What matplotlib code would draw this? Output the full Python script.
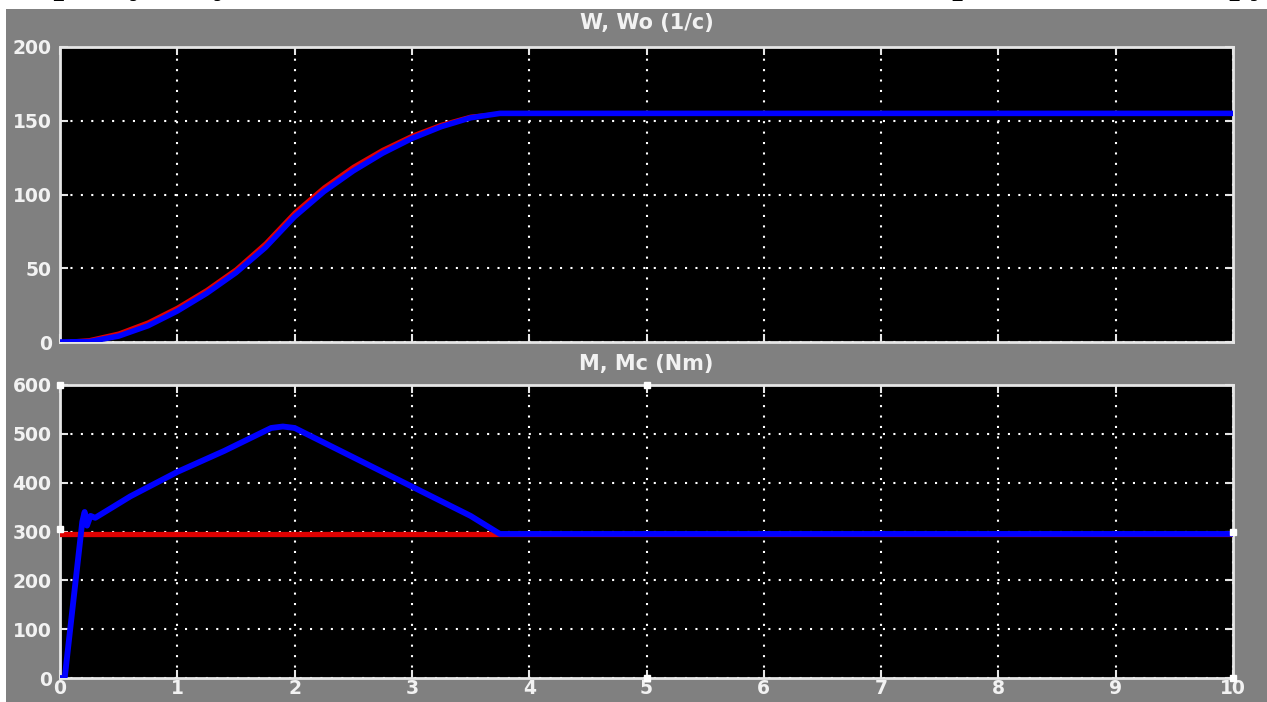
import matplotlib.pyplot as plt
import matplotlib.patches as patches

# ---------------------------------------------------------
# data
# ---------------------------------------------------------
t_w = [0, 0.25, 0.5, 0.75, 1.0, 1.25, 1.5, 1.75, 2.0, 2.25, 2.5, 2.75, 3.0, 3.25, 3.5, 3.75, 10]
w = [0, 0.3, 4, 11, 21, 33, 47, 64, 85, 102, 116, 128, 138, 146, 152, 155, 155]
wo = [0, 1.5, 6, 13.5, 23.5, 35.5, 49.5, 67, 88, 105, 119, 130.5, 140, 147.5, 153, 155, 155]

t_m = [0, 0.04, 0.19, 0.21, 0.23, 0.26, 0.3, 0.6, 1.0, 1.4, 1.8, 1.9, 2.0, 2.5, 3.0, 3.5, 3.75, 10]
m = [0, 0, 320, 340, 312, 332, 328, 372, 422, 465, 512, 515, 512, 452, 392, 332, 295, 295]
t_mc = [0, 10]
mc = [295, 295]

x_ticks = list(range(0, 11))
w_ticks = [0, 50, 100, 150, 200]
m_ticks = [0, 100, 200, 300, 400, 500, 600]

caption = "Модель двигателя при пуске установки с задатчиком интенсивности и реактивной нагрузкой при разгоне"

# ---------------------------------------------------------
# figure
# ---------------------------------------------------------
W_PX, H_PX = 1267, 702
fig = plt.figure(figsize=(W_PX / 100, H_PX / 100), dpi=100)
fig.patch.set_facecolor('white')

# grey scope background (white strip on top and at left edge)
fig.add_artist(patches.Rectangle((6 / W_PX, 0), 1, 1 - 9 / H_PX, transform=fig.transFigure,
                                 facecolor='#808080', edgecolor='none', zorder=0))

# caption of the page above, only its descenders are visible
fig.text(0.50, 1 + 8 / H_PX, caption, ha='center', va='baseline', fontsize=28,
         fontweight='bold', family='Liberation Serif', color='black')

GRID = dict(color='white', linestyle=(0, (1, 4)), linewidth=1.5)
TXT = '#f2f2f2'


def setup(ax, yticks, title, title_y, show_x):
    ax.set_facecolor('black')
    ax.set_xlim(0, 10)
    ax.set_ylim(yticks[0], yticks[-1])
    ax.set_xticks(x_ticks)
    ax.set_yticks(yticks)
    ax.grid(True, **GRID)
    for s in ax.spines.values():
        s.set_color('#e6e6e6')
        s.set_linewidth(2)
    ax.tick_params(direction='in', length=6, width=1.5, color='#e6e6e6',
                   top=True, right=True, labelsize=13.5, labelcolor=TXT, pad=6)
    for lab in ax.get_yticklabels() + ax.get_xticklabels():
        lab.set_fontweight('bold')
        lab.set_family('DejaVu Sans')
    if not show_x:
        ax.tick_params(labelbottom=False)
    else:
        ax.tick_params(axis='x', pad=1)
    ax.text(0.5, title_y, title, transform=ax.transAxes, ha='center', va='center',
            fontsize=15, fontweight='bold', family='DejaVu Sans', color=TXT)


ax1 = fig.add_axes([60 / W_PX, 1 - 342 / H_PX, 1173 / W_PX, 295 / H_PX])
ax2 = fig.add_axes([60 / W_PX, 1 - 678 / H_PX, 1173 / W_PX, 293 / H_PX])

setup(ax1, w_ticks, 'W, Wo (1/c)', 1 + 24 / 295, False)
setup(ax2, m_ticks, 'M, Mc (Nm)', 1 + 21 / 293, True)

# speed traces
ax1.plot(t_w, wo, color='#e00000', lw=2.5, zorder=3)
ax1.plot(t_w, w, color='#0000ff', lw=4, zorder=4, solid_capstyle='round')

# torque traces
ax2.plot(t_mc, mc, color='#e00000', lw=3.8, zorder=3)
ax2.plot(t_m, m, color='#0000ff', lw=4.2, zorder=4, solid_joinstyle='round')

# little white selection markers of the scope window
ax2.plot([0, 0, 5, 5, 10, 10], [600, 305, 600, 0, 300, 0], 's', ms=4,
         color='white', clip_on=False, zorder=6)

fig.savefig('out.png', dpi=100, facecolor=fig.get_facecolor())
